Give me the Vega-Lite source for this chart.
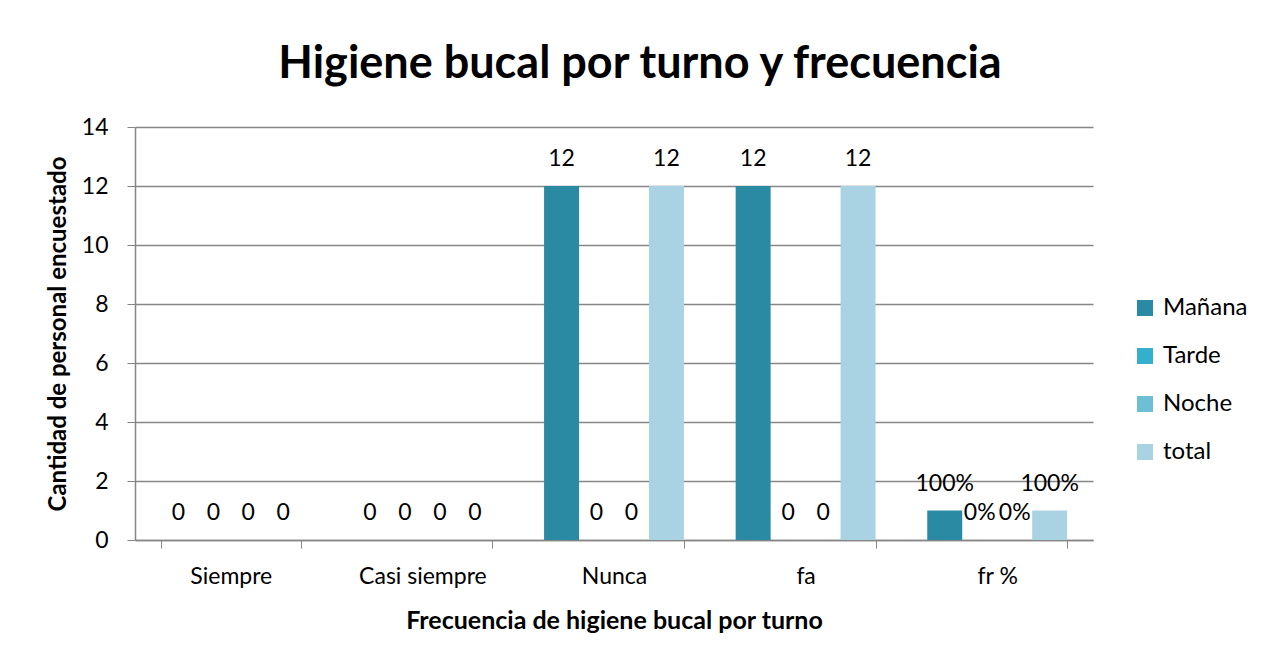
{
  "$schema": "https://vega.github.io/schema/vega-lite/v6.json",
  "autosize": {"type": "none"},
  "width": 958,
  "height": 413,
  "padding": {"left": 135, "top": 127, "right": 168, "bottom": 116},
  "background": "white",
  "config": {
    "font": "Lato",
    "view": {"stroke": null},
    "axis": {"labelFont": "Lato", "titleFont": "Lato", "labelColor": "#000000", "titleColor": "#000000"}
  },
  "title": {
    "text": "Higiene bucal por turno y frecuencia",
    "fontSize": 45,
    "fontWeight": "bold",
    "font": "Lato",
    "color": "#000000",
    "anchor": "middle",
    "baseline": "alphabetic",
    "offset": 45,
    "dx": 26,
    "dy": 52
  },
  "data": {
    "values": [
      {"cat": "Siempre", "serie": "Mañana", "value": 0, "label": "0"},
      {"cat": "Siempre", "serie": "Tarde", "value": 0, "label": "0"},
      {"cat": "Siempre", "serie": "Noche", "value": 0, "label": "0"},
      {"cat": "Siempre", "serie": "total", "value": 0, "label": "0"},
      {"cat": "Casi siempre", "serie": "Mañana", "value": 0, "label": "0"},
      {"cat": "Casi siempre", "serie": "Tarde", "value": 0, "label": "0"},
      {"cat": "Casi siempre", "serie": "Noche", "value": 0, "label": "0"},
      {"cat": "Casi siempre", "serie": "total", "value": 0, "label": "0"},
      {"cat": "Nunca", "serie": "Mañana", "value": 12, "label": "12"},
      {"cat": "Nunca", "serie": "Tarde", "value": 0, "label": "0"},
      {"cat": "Nunca", "serie": "Noche", "value": 0, "label": "0"},
      {"cat": "Nunca", "serie": "total", "value": 12, "label": "12"},
      {"cat": "fa", "serie": "Mañana", "value": 12, "label": "12"},
      {"cat": "fa", "serie": "Tarde", "value": 0, "label": "0"},
      {"cat": "fa", "serie": "Noche", "value": 0, "label": "0"},
      {"cat": "fa", "serie": "total", "value": 12, "label": "12"},
      {"cat": "fr %", "serie": "Mañana", "value": 1, "label": "100%"},
      {"cat": "fr %", "serie": "Tarde", "value": 0, "label": "0%"},
      {"cat": "fr %", "serie": "Noche", "value": 0, "label": "0%"},
      {"cat": "fr %", "serie": "total", "value": 1, "label": "100%"}
    ]
  },
  "encoding": {
    "x": {
      "field": "cat",
      "type": "nominal",
      "sort": ["Siempre", "Casi siempre", "Nunca", "fa", "fr %"],
      "scale": {"paddingInner": 0.27, "paddingOuter": 0.135},
      "axis": {
        "title": "Frecuencia de higiene bucal por turno",
        "titleFontSize": 25,
        "titleFontWeight": "bold",
        "titlePadding": 20,
        "labelFontSize": 23,
        "labelAngle": 0,
        "labelPadding": 17,
        "tickBand": "extent",
        "tickSize": 8,
        "tickColor": "#868686",
        "domainColor": "#868686",
        "domainWidth": 1.5,
        "grid": false
      }
    },
    "xOffset": {
      "field": "serie",
      "type": "nominal",
      "sort": ["Mañana", "Tarde", "Noche", "total"],
      "scale": {"paddingInner": 0, "paddingOuter": 0}
    },
    "y": {
      "field": "value",
      "type": "quantitative",
      "scale": {"domain": [0, 14], "nice": false},
      "axis": {
        "title": "Cantidad de personal encuestado",
        "titleFontSize": 24,
        "titleFontWeight": "bold",
        "titlePadding": 11,
        "labelFontSize": 23,
        "labelPadding": 19,
        "values": [0, 2, 4, 6, 8, 10, 12, 14],
        "tickSize": 8,
        "tickColor": "#868686",
        "domainColor": "#868686",
        "domainWidth": 1.5,
        "gridColor": "#868686",
        "gridWidth": 1.5
      }
    }
  },
  "layer": [
    {
      "mark": {"type": "bar"},
      "encoding": {
        "color": {
          "field": "serie",
          "type": "nominal",
          "sort": ["Mañana", "Tarde", "Noche", "total"],
          "scale": {
            "domain": ["Mañana", "Tarde", "Noche", "total"],
            "range": ["#2a8aa3", "#35b0cc", "#6fbfd4", "#a9d3e2"]
          },
          "legend": {
            "title": null,
            "orient": "none",
            "legendX": 998,
            "legendY": 169,
            "symbolType": "square",
            "symbolSize": 256,
            "symbolStrokeWidth": 0,
            "labelFontSize": 24,
            "labelFont": "Lato",
            "rowPadding": 24,
            "labelOffset": 6
          }
        }
      }
    },
    {
      "mark": {"type": "text", "fontSize": 23, "baseline": "middle", "dy": -27, "color": "#000000"},
      "encoding": {
        "text": {"field": "label"}
      }
    }
  ]
}
